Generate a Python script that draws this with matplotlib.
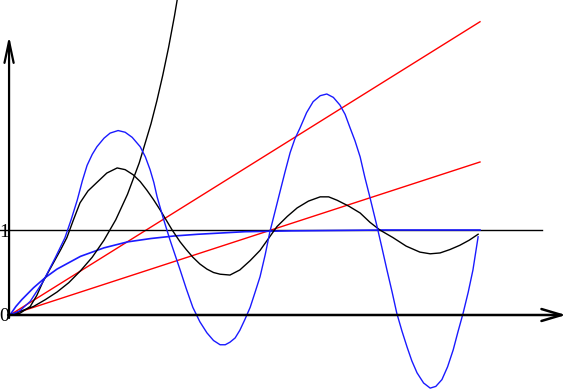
import matplotlib.pyplot as plt

# ramps
ramp_x = [0, 10]
ramp_fast = [0, 3.45]
ramp_slow = [0, 1.80]

# first order step response (blue, saturating)
sat_x = [0, 0.125, 0.25, 0.5, 0.75, 1.0, 1.5, 2.0, 2.5, 3.0, 3.5, 4.0, 5.0, 6.0, 7.0, 8.0, 9.0, 10.0]
sat_y = [0, 0.10, 0.18, 0.32, 0.44, 0.54, 0.69, 0.79, 0.86, 0.90, 0.93, 0.95, 0.98, 0.99, 0.995, 1.0, 1.0, 1.0]

# unstable first order (black, exponential)
exp_x = [0, 0.25, 0.5, 0.75, 1.0, 1.25, 1.5, 1.75, 2.0, 2.25, 2.5, 2.75, 3.0, 3.125, 3.25, 3.375,
         3.5, 3.625, 3.75]
exp_y = [0, 0.05, 0.10, 0.18, 0.27, 0.38, 0.52, 0.68, 0.88, 1.12, 1.42, 1.79, 2.25, 2.52, 2.82, 3.15,
         3.52, 3.93, 4.40]

# damped oscillation (black)
damp_x = [0, 0.21, 0.43, 0.57, 0.70, 0.83, 0.96, 1.08, 1.21, 1.35, 1.49, 1.66, 1.85, 2.06, 2.28,
          2.45, 2.62, 2.77, 2.91, 3.05, 3.19, 3.32, 3.45, 3.62, 3.75, 3.89, 4.04, 4.19, 4.33,
          4.47, 4.68, 4.89, 5.11, 5.32, 5.50, 5.68, 5.90, 6.11, 6.35, 6.60, 6.78, 6.96, 7.21,
          7.45, 7.66, 7.87, 8.15, 8.43, 8.72, 8.94, 9.15, 9.36, 9.57, 9.77, 9.96]
damp_y = [0, 0.02, 0.10, 0.23, 0.39, 0.52, 0.65, 0.77, 0.91, 1.12, 1.32, 1.46, 1.56, 1.67, 1.73,
          1.71, 1.65, 1.57, 1.47, 1.36, 1.24, 1.12, 1.00, 0.86, 0.77, 0.68, 0.60, 0.54, 0.50,
          0.48, 0.47, 0.53, 0.64, 0.76, 0.90, 1.04, 1.16, 1.26, 1.34, 1.39, 1.39, 1.35, 1.28,
          1.20, 1.09, 1.00, 0.91, 0.81, 0.74, 0.72, 0.73, 0.77, 0.82, 0.88, 0.95]

# growing oscillation (blue)
osc_x = [0, 0.21, 0.43, 0.70, 0.96, 1.17, 1.30, 1.43, 1.54, 1.64, 1.75, 1.85, 2.00, 2.13, 2.30,
         2.45, 2.60, 2.77, 2.88, 2.98, 3.06, 3.13, 3.26, 3.40, 3.51, 3.62, 3.75, 3.89, 4.04,
         4.19, 4.33, 4.47, 4.58, 4.68, 4.79, 4.89, 5.00, 5.11, 5.21, 5.32, 5.43, 5.53, 5.64,
         5.74, 5.85, 5.96, 6.06, 6.17, 6.31, 6.45, 6.60, 6.74, 6.88, 7.02, 7.13, 7.23, 7.34,
         7.45, 7.55, 7.66, 7.81, 7.91, 8.02, 8.13, 8.23, 8.34, 8.45, 8.55, 8.66, 8.80, 8.94,
         9.06, 9.19, 9.31, 9.43, 9.53, 9.64, 9.75, 9.85, 9.96]
osc_y = [0, 0.05, 0.16, 0.39, 0.67, 0.91, 1.12, 1.35, 1.58, 1.76, 1.89, 1.98, 2.08, 2.14, 2.17,
         2.15, 2.09, 1.98, 1.86, 1.71, 1.56, 1.39, 1.14, 0.89, 0.71, 0.53, 0.31, 0.09, -0.08,
         -0.21, -0.30, -0.35, -0.35, -0.32, -0.27, -0.18, -0.05, 0.09, 0.26, 0.45, 0.71, 0.98, 1.22,
         1.44, 1.68, 1.91, 2.07, 2.20, 2.38, 2.51, 2.58, 2.60, 2.56, 2.47, 2.36, 2.21, 2.05,
         1.86, 1.62, 1.38, 1.04, 0.80, 0.53, 0.27, 0.02, -0.19, -0.38, -0.54, -0.68, -0.80, -0.86,
         -0.84, -0.76, -0.61, -0.41, -0.20, 0.02, 0.27, 0.53, 0.92]

fig = plt.figure(figsize=(5.67, 3.9), dpi=100)
ax = fig.add_axes([0, 0, 1, 1])
ax.axis('off')
ax.set_xlim(-10 / 47, 557 / 47)
ax.set_ylim(-75 / 85, 315 / 85)

blue = '#1a1aff'
red = '#ff0000'

ax.plot(ramp_x, ramp_fast, color=red, lw=1.0)
ax.plot(ramp_x, ramp_slow, color=red, lw=1.0)
ax.axhline(1, xmin=0, xmax=542 / 567, color='black', lw=1.0)
ax.plot(sat_x, sat_y, color=blue, lw=1.2)
ax.plot(exp_x, exp_y, color='black', lw=1.0)
ax.plot(damp_x, damp_y, color='black', lw=1.0)
ax.plot(osc_x, osc_y, color=blue, lw=1.0)

# axes with open arrow heads
ax.annotate('', xy=(556 / 47, 0), xytext=(-0.04, 0),
            arrowprops=dict(arrowstyle='->,head_length=1.45,head_width=0.43',
                            lw=1.8, color='black', shrinkA=0, shrinkB=0, mutation_scale=10))
ax.annotate('', xy=(-0.02, 279 / 85), xytext=(-0.02, -0.035),
            arrowprops=dict(arrowstyle='->,head_length=1.55,head_width=0.33',
                            lw=1.6, color='black', shrinkA=0, shrinkB=0, mutation_scale=10))

ax.text(-6 / 47, 0.975, '1', family='Liberation Serif', fontsize=14, ha='center', va='center')
ax.text(-6 / 47, -0.02, '0', family='Liberation Serif', fontsize=14, ha='center', va='center')

plt.savefig('out.png', dpi=100)
